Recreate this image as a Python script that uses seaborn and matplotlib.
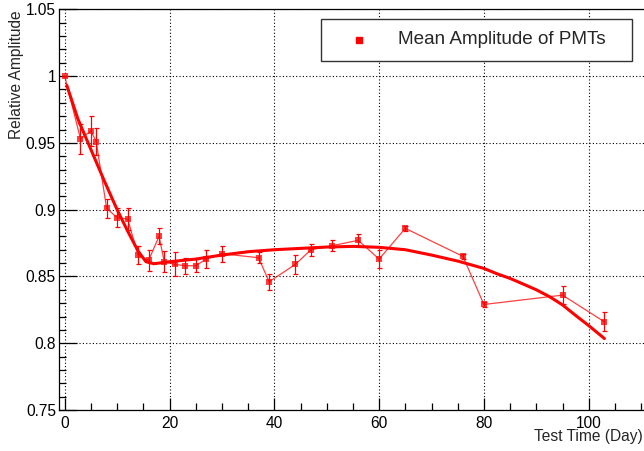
import matplotlib
matplotlib.use("Agg")
import matplotlib.pyplot as plt
import seaborn as sns
from matplotlib.patches import Rectangle
from matplotlib.ticker import MultipleLocator

# measured points
days = [0, 3, 5, 6, 8, 10, 12, 14, 16, 18, 19, 21, 23, 25, 27, 30,
        37, 39, 44, 47, 51, 56, 60, 65, 76, 80, 95, 103]
amp = [1.000, 0.953, 0.959, 0.951, 0.901, 0.894, 0.893, 0.866, 0.862, 0.880,
       0.861, 0.859, 0.858, 0.858, 0.863, 0.867, 0.864, 0.846, 0.859, 0.870,
       0.873, 0.877, 0.863, 0.886, 0.865, 0.829, 0.836, 0.816]
amp_err = [0.0, 0.011, 0.011, 0.010, 0.007, 0.007, 0.008, 0.007, 0.008, 0.006,
           0.008, 0.009, 0.006, 0.005, 0.007, 0.006, 0.004, 0.006, 0.007, 0.0045,
           0.004, 0.0045, 0.0065, 0.002, 0.002, 0.002, 0.0065, 0.007]

# fitted curve
fit_days = [0.4, 2.5, 5, 7.5, 10, 12, 14, 15.5, 17, 20, 25, 30, 35, 40, 45, 50,
            55, 60, 65, 70, 75, 80, 82.5, 85, 87.5, 90, 92.5, 95, 97.5, 100, 103]
fit_amp = [0.993, 0.968, 0.945, 0.922, 0.900, 0.884, 0.869, 0.861, 0.8595, 0.861,
           0.863, 0.866, 0.8685, 0.870, 0.871, 0.872, 0.8725, 0.8718, 0.870, 0.866,
           0.8615, 0.856, 0.852, 0.8485, 0.8443, 0.840, 0.8349, 0.8287, 0.8208,
           0.8132, 0.8035]

sns.set_style("white")
plt.rcParams['font.family'] = ['Liberation Sans', 'DejaVu Sans']

fig = plt.figure(figsize=(6.44, 4.51), dpi=100)
ax = fig.add_axes([58.7/644, 41/451, 599.7/644, 400.7/451])

sns.lineplot(x=days, y=amp, ax=ax, color='red', lw=0.9, alpha=0.75,
             marker='s', markersize=4.3, markeredgewidth=0, zorder=3)
ax.errorbar(days, amp, yerr=amp_err, fmt='none', ecolor='red', elinewidth=0.9,
            capsize=1.8, capthick=0.9, zorder=3)
sns.lineplot(x=fit_days, y=fit_amp, ax=ax, color='red', lw=2.2, zorder=4)

ax.set_xlim(-1.15, 113.3)
ax.set_ylim(0.75, 1.05)
ax.xaxis.set_major_locator(MultipleLocator(20))
ax.xaxis.set_minor_locator(MultipleLocator(5))
ax.yaxis.set_minor_locator(MultipleLocator(0.01))
ax.set_yticks([0.75, 0.8, 0.85, 0.9, 0.95, 1.0, 1.05])
ax.set_yticklabels(['0.75', '0.8', '0.85', '0.9', '0.95', '1', '1.05'])

ax.tick_params(axis='both', which='both', direction='in', colors='black',
               labelsize=11.2, width=0.9)
ax.tick_params(axis='y', which='major', length=13, pad=2)
ax.tick_params(axis='y', which='minor', length=5)
ax.tick_params(axis='x', which='major', length=8.6, pad=4)
ax.tick_params(axis='x', which='minor', length=5)
ax.tick_params(top=False, right=False, which='both')
ax.tick_params(left=True, bottom=True, which='both')

ax.grid(True, which='major', color='black', linestyle=(0, (1, 2)), linewidth=0.8)
for s in ax.spines.values():
    s.set_color('black')
    s.set_linewidth(0.9)

ax.set_xlabel('')
ax.set_ylabel('')
fig.text(643/644, 1 - 437/451, 'Test Time (Day)', ha='right', va='center', fontsize=11.2)
fig.text(17/644, 1 - 10/451, 'Relative Amplitude', rotation=90, ha='center', va='top',
         fontsize=11.2)

# legend box
fig.patches.append(Rectangle((321/644, 1 - 61/451), 311/644, 42/451,
                             transform=fig.transFigure, facecolor='white',
                             edgecolor='#333333', linewidth=1.0, zorder=10))
fig.lines.append(plt.Line2D([359/644], [1 - 40/451], transform=fig.transFigure,
                            marker='s', markersize=4.3, color='red', lw=0, zorder=11))
fig.text(398/644, 1 - 40/451, 'Mean Amplitude of PMTs', ha='left', va='center',
         fontsize=13.6, zorder=11)

plt.savefig('out.png', dpi=100)
